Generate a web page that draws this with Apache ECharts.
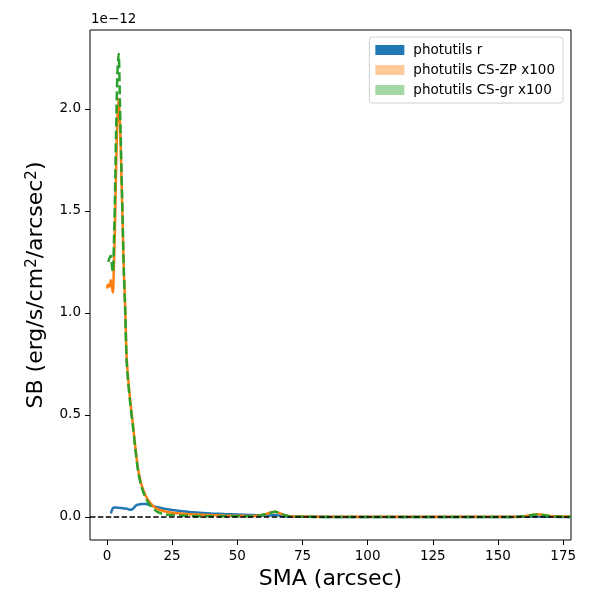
<!DOCTYPE html>
<html lang="en">
<head>
    <meta charset="utf-8"/>
    <script src="https://cdn.jsdelivr.net/npm/echarts@6/dist/echarts.min.js"></script>
</head>
<style>
    body { margin: 0; background: #fff; }
    #main { width: 600px; height: 600px; }
</style>
<body>
<div id="main"></div>
<script>
    // SMA in arcsec, SB in units of 1e-12 erg/s/cm2/arcsec2
    var sma = [0, 0.5, 1, 1.5, 2, 2.3, 2.7, 3, 3.5, 4,
        4.5, 5, 5.5, 6, 6.5, 7, 7.5, 8, 9, 10,
        11, 12, 13, 14, 15, 16, 17, 18, 20, 22,
        25, 28, 32, 36, 40, 45, 50, 55, 58, 61,
        63, 64.5, 66, 68, 70, 75, 80, 90, 100, 110,
        120, 130, 140, 150, 155, 160, 163, 165, 167, 170,
        175, 178];
    var sbR = [null, null, null, 0.018, 0.036, 0.043, 0.046, 0.047, 0.046, 0.045,
        0.045, 0.044, 0.044, 0.043, 0.042, 0.042, 0.041, 0.039, 0.035, 0.040,
        0.055, 0.061, 0.063, 0.064, 0.063, 0.060, 0.056, 0.052, 0.046, 0.040,
        0.034, 0.029, 0.024, 0.020, 0.017, 0.014, 0.012, 0.010, 0.008, 0.007,
        0.008, 0.009, 0.007, 0.004, 0.002, 0.001, 0.0005, 0, 0, 0,
        0, 0, 0, 0, 0, 0.001, 0.002, 0.002, 0.002, 0.001,
        0, 0];
    var sbZP = [1.12, 1.14, 1.13, 1.16, 1.12, 1.10, 1.25, 1.38, 1.70, 1.95,
        2.05, 1.93, 1.70, 1.45, 1.20, 1.03, 0.80, 0.70, 0.56, 0.45,
        0.33, 0.23, 0.17, 0.13, 0.10, 0.08, 0.063, 0.05, 0.036, 0.028,
        0.021, 0.017, 0.013, 0.011, 0.009, 0.007, 0.006, 0.005, 0.006, 0.014,
        0.022, 0.025, 0.020, 0.010, 0.004, 0.002, 0.001, 0.001, 0.001, 0.001,
        0.001, 0.001, 0.001, 0.001, 0.001, 0.004, 0.010, 0.013, 0.011, 0.005,
        0.002, 0.001];
    var sbGR = [null, 1.25, 1.27, 1.28, 1.22, 1.20, 1.36, 1.52, 1.88, 2.17,
        2.27, 2.02, 1.74, 1.46, 1.19, 1.01, 0.78, 0.68, 0.55, 0.44,
        0.32, 0.22, 0.16, 0.12, 0.09, 0.068, 0.05, 0.038, 0.021, 0.013,
        0.009, 0.007, 0.005, 0.004, 0.004, 0.003, 0.003, 0.003, 0.005, 0.014,
        0.022, 0.025, 0.020, 0.010, 0.003, 0.001, 0, 0, 0, 0,
        0, 0, 0, 0, 0, 0.003, 0.009, 0.012, 0.010, 0.004,
        0.001, 0];
    var xTicks = [0, 25, 50, 75, 100, 125, 150, 175];
    var yTicks = [0, 0.5, 1, 1.5, 2];
    var names = ['photutils r', 'photutils CS-ZP x100', 'photutils CS-gr x100'];

    function pairs(ys) {
        return sma.map(function (x, i) { return [x, ys[i]]; });
    }

    var font = 'DejaVu Sans';
    var chart = echarts.init(document.getElementById('main'));
    var option = {
        animation: false,
        textStyle: {fontFamily: font},
        grid: {left: 90, right: 29, top: 30, bottom: 60, show: true, borderColor: '#000', borderWidth: 1},
        graphic: [{
            type: 'text', left: 91, top: 12,
            style: {text: '1e\u221212', font: '13.5px "DejaVu Sans"', fill: '#000'}
        }],
        legend: {
            orient: 'vertical', right: 37, top: 37,
            padding: [6, 8, 6, 6], itemGap: 6,
            itemWidth: 29, itemHeight: 10, icon: 'rect',
            borderColor: '#d0d0d0', borderWidth: 1, borderRadius: 3,
            textStyle: {fontFamily: font, fontSize: 13.5, color: '#000', padding: [0, 0, 0, 4]},
            data: [
                {name: names[0], itemStyle: {color: '#1f77b4', borderWidth: 0}},
                {name: names[1], itemStyle: {color: 'rgba(255,127,14,0.42)', borderWidth: 0}},
                {name: names[2], itemStyle: {color: 'rgba(44,160,44,0.42)', borderWidth: 0}}
            ]
        },
        xAxis: {
            type: 'value', min: -6.5, max: 178,
            name: 'SMA (arcsec)', nameLocation: 'middle', nameGap: 28,
            nameTextStyle: {fontFamily: font, fontSize: 22, color: '#000'},
            axisLine: {show: false, onZero: false},
            splitLine: {show: false},
            axisTick: {show: true, length: 5, lineStyle: {color: '#000'}, customValues: xTicks},
            axisLabel: {fontFamily: font, fontSize: 13.5, color: '#000', margin: 9, customValues: xTicks}
        },
        yAxis: {
            type: 'value', min: -0.113, max: 2.387,
            name: '{a|SB (erg/s/cm}{s|2}{a|/arcsec}{s|2}{a|)}', nameLocation: 'middle', nameGap: 42,
            nameTextStyle: {
                rich: {
                    a: {fontFamily: font, fontSize: 22, color: '#000'},
                    s: {fontFamily: font, fontSize: 15, color: '#000', verticalAlign: 'top', padding: [0, 0, 8, 0]}
                }
            },
            axisLine: {show: false, onZero: false},
            splitLine: {show: false},
            axisTick: {show: true, length: 5, lineStyle: {color: '#000'}, customValues: yTicks},
            axisLabel: {
                fontFamily: font, fontSize: 13.5, color: '#000', margin: 9, customValues: yTicks,
                formatter: function (v) { return v.toFixed(1); }
            }
        },
        series: [
            {
                name: names[0], type: 'line', data: pairs(sbR), showSymbol: false, smooth: 0.3,
                itemStyle: {color: '#1f77b4'},
                lineStyle: {color: '#1f77b4', width: 2.5}
            },
            {
                name: names[1], type: 'line', data: pairs(sbZP), showSymbol: false, smooth: 0.3,
                itemStyle: {color: '#ff7f0e'},
                lineStyle: {color: '#ff7f0e', width: 2.5}
            },
            {
                name: names[2], type: 'line', data: pairs(sbGR), showSymbol: false, smooth: 0.3,
                itemStyle: {color: '#2ca02c'},
                lineStyle: {color: '#2ca02c', width: 2.5, type: [9, 4]},
                markLine: {
                    silent: true, symbol: 'none', label: {show: false},
                    lineStyle: {color: '#000', width: 1.6, type: [5.5, 2.4]},
                    data: [{yAxis: 0}]
                }
            }
        ]
    };
    chart.setOption(option);
</script>
</body>
</html>
